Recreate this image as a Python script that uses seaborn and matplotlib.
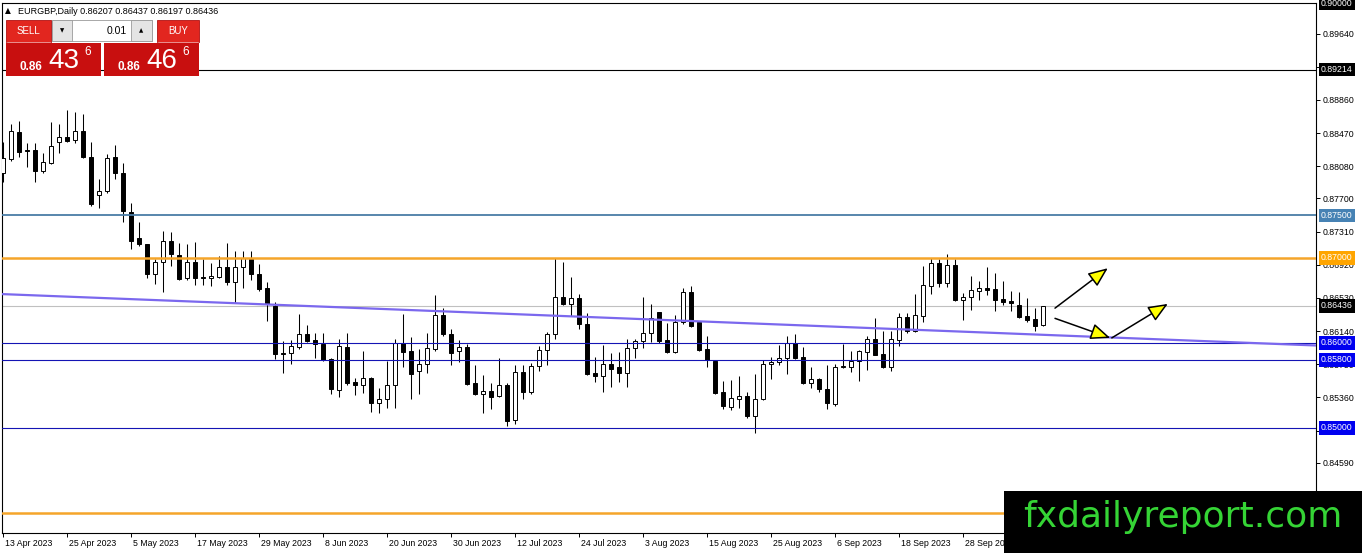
import matplotlib
matplotlib.use('Agg')
import matplotlib.pyplot as plt
from matplotlib.patches import Rectangle, FancyArrowPatch
from matplotlib.transforms import ScaledTranslation
import seaborn as sns
import pandas as pd
import numpy as np

# header of the chart window
symbol_line = 'EURGBP,Daily 0.86207 0.86437 0.86197 0.86436'
first_day = '2023-04-13'

# daily candles (13 Apr 2023 .. 12 Oct 2023)
opens = [0.8800, 0.8816, 0.8848, 0.8827, 0.8827, 0.8802, 0.8812, 0.8836, 0.8842, 0.8839,
         0.8849, 0.8819, 0.8774, 0.8779, 0.8819, 0.8800, 0.8754, 0.8724, 0.8716, 0.8681,
         0.8695, 0.8720, 0.8704, 0.8676, 0.8695, 0.8678, 0.8676, 0.8678, 0.8689, 0.8672,
         0.8689, 0.8699, 0.8681, 0.8665, 0.8644, 0.8588, 0.8588, 0.8595, 0.8611, 0.8604,
         0.8599, 0.8581, 0.8545, 0.8595, 0.8554, 0.8551, 0.8559, 0.8529, 0.8534, 0.8551,
         0.8600, 0.8591, 0.8567, 0.8575, 0.8593, 0.8633, 0.8611, 0.8591, 0.8595, 0.8553,
         0.8540, 0.8544, 0.8538, 0.8551, 0.8509, 0.8566, 0.8542, 0.8573, 0.8592, 0.8611,
         0.8654, 0.8646, 0.8653, 0.8622, 0.8565, 0.8561, 0.8575, 0.8572, 0.8565, 0.8594,
         0.8602, 0.8612, 0.8636, 0.8604, 0.8589, 0.8625, 0.8660, 0.8625, 0.8593, 0.8579,
         0.8542, 0.8525, 0.8534, 0.8538, 0.8514, 0.8534, 0.8575, 0.8578, 0.8582, 0.8600,
         0.8584, 0.8553, 0.8558, 0.8546, 0.8528, 0.8572, 0.8572, 0.8579, 0.8589, 0.8605,
         0.8587, 0.8572, 0.8604, 0.8631, 0.8614, 0.8632, 0.8667, 0.8694, 0.8671, 0.8692,
         0.8651, 0.8654, 0.8661, 0.8665, 0.8664, 0.8652, 0.8649, 0.8645, 0.8632, 0.8628,
         0.86207]
highs = [0.8836, 0.8858, 0.8861, 0.8835, 0.8835, 0.8824, 0.8860, 0.8858, 0.8874, 0.8872,
         0.8869, 0.8836, 0.8793, 0.8822, 0.8833, 0.8812, 0.8765, 0.8742, 0.8717, 0.8699,
         0.8732, 0.8731, 0.8718, 0.8716, 0.8719, 0.8699, 0.8694, 0.8702, 0.8718, 0.8708,
         0.8708, 0.8708, 0.8693, 0.8672, 0.8648, 0.8602, 0.8604, 0.8634, 0.8621, 0.8612,
         0.8612, 0.8582, 0.8605, 0.8612, 0.8559, 0.8591, 0.8560, 0.8547, 0.8579, 0.8605,
         0.8634, 0.8607, 0.8593, 0.8612, 0.8656, 0.8641, 0.8616, 0.8604, 0.8599, 0.8574,
         0.8562, 0.8553, 0.8582, 0.8553, 0.8574, 0.8574, 0.8576, 0.8596, 0.8613, 0.8700,
         0.8695, 0.8678, 0.8658, 0.8635, 0.8584, 0.8598, 0.8588, 0.8589, 0.8605, 0.8605,
         0.8654, 0.8646, 0.8637, 0.8624, 0.8633, 0.8665, 0.8667, 0.8626, 0.8608, 0.8580,
         0.8555, 0.8556, 0.8561, 0.8542, 0.8564, 0.8580, 0.8584, 0.8598, 0.8608, 0.8611,
         0.8595, 0.8572, 0.8559, 0.8574, 0.8575, 0.8599, 0.8591, 0.8592, 0.8608, 0.8629,
         0.8614, 0.8614, 0.8635, 0.8635, 0.8658, 0.8691, 0.8700, 0.8699, 0.8705, 0.8699,
         0.8659, 0.8679, 0.8673, 0.8689, 0.8682, 0.8673, 0.8661, 0.8660, 0.8653, 0.8641,
         0.86437]
lows = [0.8789, 0.8814, 0.8819, 0.8807, 0.8789, 0.8800, 0.8811, 0.8824, 0.8836, 0.8835,
        0.8818, 0.8761, 0.8759, 0.8776, 0.8793, 0.8742, 0.8711, 0.8714, 0.8676, 0.8669,
        0.8660, 0.8691, 0.8674, 0.8674, 0.8668, 0.8668, 0.8667, 0.8676, 0.8668, 0.8647,
        0.8665, 0.8674, 0.8661, 0.8626, 0.8581, 0.8565, 0.8575, 0.8593, 0.8601, 0.8582,
        0.8579, 0.8540, 0.8536, 0.8551, 0.8539, 0.8541, 0.8519, 0.8518, 0.8524, 0.8524,
        0.8572, 0.8534, 0.8540, 0.8565, 0.8591, 0.8608, 0.8574, 0.8578, 0.8551, 0.8539,
        0.8518, 0.8522, 0.8536, 0.8502, 0.8505, 0.8534, 0.8540, 0.8567, 0.8574, 0.8605,
        0.8645, 0.8632, 0.8616, 0.8562, 0.8554, 0.8542, 0.8548, 0.8554, 0.8548, 0.8582,
        0.8594, 0.8601, 0.8600, 0.8588, 0.8588, 0.8622, 0.8619, 0.8591, 0.8572, 0.8540,
        0.8522, 0.8521, 0.8524, 0.8512, 0.8494, 0.8533, 0.8558, 0.8574, 0.8564, 0.8581,
        0.8552, 0.8547, 0.8542, 0.8522, 0.8526, 0.8571, 0.8566, 0.8555, 0.8568, 0.8586,
        0.8571, 0.8567, 0.8596, 0.8612, 0.8613, 0.8625, 0.8658, 0.8666, 0.8666, 0.8649,
        0.8627, 0.8639, 0.8651, 0.8656, 0.8638, 0.8645, 0.8638, 0.8629, 0.8625, 0.8614,
        0.86197]
closes = [0.8818, 0.8849, 0.8825, 0.8826, 0.8802, 0.8813, 0.8832, 0.8842, 0.8838, 0.8849,
          0.8819, 0.8764, 0.8779, 0.8818, 0.8800, 0.8755, 0.8720, 0.8716, 0.8681, 0.8695,
          0.8720, 0.8705, 0.8675, 0.8695, 0.8676, 0.8676, 0.8679, 0.8689, 0.8672, 0.8689,
          0.8700, 0.8681, 0.8664, 0.8646, 0.8587, 0.8587, 0.8596, 0.8611, 0.8602, 0.8599,
          0.8580, 0.8546, 0.8596, 0.8553, 0.8551, 0.8559, 0.8529, 0.8534, 0.8551, 0.8600,
          0.8589, 0.8564, 0.8575, 0.8594, 0.8633, 0.8611, 0.8588, 0.8595, 0.8552, 0.8540,
          0.8544, 0.8536, 0.8551, 0.8508, 0.8566, 0.8542, 0.8573, 0.8592, 0.8611, 0.8654,
          0.8646, 0.8653, 0.8622, 0.8564, 0.8561, 0.8575, 0.8569, 0.8565, 0.8594, 0.8602,
          0.8612, 0.8629, 0.8602, 0.8589, 0.8625, 0.8660, 0.8620, 0.8592, 0.8580, 0.8541,
          0.8526, 0.8535, 0.8538, 0.8514, 0.8534, 0.8575, 0.8578, 0.8582, 0.8600, 0.8582,
          0.8553, 0.8558, 0.8546, 0.8529, 0.8572, 0.8573, 0.8579, 0.8591, 0.8605, 0.8586,
          0.8572, 0.8605, 0.8631, 0.8614, 0.8633, 0.8668, 0.8694, 0.8671, 0.8692, 0.8651,
          0.8654, 0.8662, 0.8665, 0.8662, 0.8651, 0.8648, 0.8647, 0.8631, 0.8627, 0.8620,
          0.86436]

# horizontal levels drawn on the chart
level_prices = [0.89214, 0.8750, 0.8700, 0.8600, 0.8580, 0.8500, 0.8400]
level_colors = ['black', '#4A7DA6', '#F5A52A', '#1414B4', '#1414B4', '#1414B4', '#F5A52A']
level_widths = [0.8, 1.3, 1.8, 0.8, 0.8, 0.8, 1.8]
bid_price = 0.86436

# tagged prices on the right scale
tag_prices = [0.90000, 0.89214, 0.87500, 0.87000, 0.86436, 0.86000, 0.85800, 0.85000]
tag_colors = ['black', 'black', '#4682B4', '#FFA500', 'black', '#0000F0', '#0000F0', '#0000F0']

# regular price scale labels
scale_prices = [0.89640, 0.89250, 0.88860, 0.88470, 0.88080, 0.87700, 0.87310,
                0.86920, 0.86530, 0.86140, 0.85750, 0.85360, 0.84970, 0.84590]

# trend line anchors (bar index, price)
trend_bars = [0, 160]
trend_prices = [0.86575, 0.85986]

# projection arrows (bar index, price)
arrow_from_bars = [131.5, 131.5, 138.6]
arrow_from_prices = [0.8641, 0.8629, 0.8606]
arrow_to_bars = [138.1, 138.4, 145.6]
arrow_to_prices = [0.8688, 0.8606, 0.8646]

# one click trading panel
sell_big, buy_big = '43', '46'
price_head, price_tail = '0.86', '6'
lot_size = '0.01'
watermark = 'fxdailyreport.com'

sns.set_theme(style='white')
plt.rcParams['font.family'] = ['Liberation Sans', 'DejaVu Sans']

W, H = 1362, 553
fig = plt.figure(figsize=(W / 100, H / 100), dpi=100)
fig.patch.set_facecolor('white')
ax = fig.add_axes([2 / W, 20 / H, 1314 / W, 530 / H])
ax.set_facecolor('white')

df = pd.DataFrame({'open': opens, 'high': highs, 'low': lows, 'close': closes})
df['date'] = pd.bdate_range(first_day, periods=len(df))
df['bar'] = np.arange(len(df))
up = df['close'] >= df['open']

# bid line behind the candles
ax.axhline(bid_price, color='#C0C0C0', lw=0.8, zorder=1)

# wicks then bodies
ax.vlines(df['bar'], df['low'], df['high'], color='black', lw=0.75, zorder=2)
body = (df['close'] - df['open']).abs().clip(lower=0.00004)
ax.bar(df['bar'], body, bottom=df[['open', 'close']].min(axis=1), width=0.62,
       color=np.where(up, 'white', 'black'), edgecolor='black', linewidth=0.7, zorder=3)

# levels and trend line
for p, c, w in zip(level_prices, level_colors, level_widths):
    ax.axhline(p, color=c, lw=w, zorder=4)
ax.axline((trend_bars[0], trend_prices[0]), (trend_bars[1], trend_prices[1]),
          color='#7B68EE', lw=1.6, zorder=4)

# arrows with yellow heads
for x0, y0, x1, y1 in zip(arrow_from_bars, arrow_from_prices, arrow_to_bars, arrow_to_prices):
    ax.add_patch(FancyArrowPatch((x0, y0), (x1, y1),
                                 arrowstyle='-|>,head_length=0.6,head_width=0.25',
                                 mutation_scale=20, fc='yellow', ec='black', lw=1.1,
                                 shrinkA=0, shrinkB=0, zorder=5))

ax.set_xlim(-0.125, 164.125)
ax.set_ylim(0.837647, 0.9)

# price scale on the right
ax.yaxis.tick_right()
ax.set_yticks(scale_prices)
ax.set_yticklabels([f'{p:.5f}' for p in scale_prices])
ax.tick_params(axis='y', direction='out', length=3, width=0.7, pad=1.5,
               labelsize=6.3, colors='black', right=True, left=False)

# dates every 8 bars
tick_rows = df.iloc[::8]
ax.set_xticks(tick_rows['bar'])
ax.set_xticklabels([f"{d.day} {d.strftime('%b %Y')}" for d in tick_rows['date']])
ax.tick_params(axis='x', direction='out', length=3, width=0.7, pad=1.2,
               labelsize=6.3, colors='black', bottom=True)
shift = ScaledTranslation(2 / 100, 0, fig.dpi_scale_trans)
for lab in ax.get_xticklabels():
    lab.set_ha('left')
    lab.set_transform(lab.get_transform() + shift)

for s in ax.spines.values():
    s.set_color('black')
    s.set_linewidth(0.8)
ax.grid(False)

# tagged prices
for p, c in zip(tag_prices, tag_colors):
    ax.annotate(f'{p:.5f}', xy=(1, p), xycoords=ax.get_yaxis_transform(),
                xytext=(5, 0), textcoords='offset pixels', va='center', ha='left',
                fontsize=6.3, color='white', annotation_clip=False, zorder=6,
                bbox=dict(boxstyle='square,pad=0.25', fc=c, ec='none'))

# overlay in pixel units for the panel, header and watermark
ov = fig.add_axes([0, 0, 1, 1], zorder=10)
ov.set_xlim(0, W)
ov.set_ylim(H, 0)
ov.axis('off')
ov.patch.set_alpha(0)

ov.text(5, 11, '\u25b2', fontsize=5.5, family='DejaVu Sans', va='center', color='black')
ov.text(18, 11, symbol_line, fontsize=6.5, va='center', color='black')

btn_red = '#E2261F'
box_red = '#C80F0F'
ov.add_patch(Rectangle((6, 20), 45, 22, fc=btn_red, ec='#B01212', lw=0.6))
ov.add_patch(Rectangle((157, 20), 42, 22, fc=btn_red, ec='#B01212', lw=0.6))
ov.add_patch(Rectangle((52, 20), 100, 21, fc='white', ec='#9A9A9A', lw=0.6))
ov.add_patch(Rectangle((52, 20), 20, 21, fc='#E4E4E4', ec='#9A9A9A', lw=0.6))
ov.add_patch(Rectangle((131, 20), 21, 21, fc='#E4E4E4', ec='#9A9A9A', lw=0.6))
ov.text(28.5, 31, 'SELL', fontsize=7, color='white', ha='center', va='center')
ov.text(178, 31, 'BUY', fontsize=7, color='white', ha='center', va='center')
ov.text(62, 31, '\u25bc', fontsize=4, family='DejaVu Sans', ha='center', va='center', color='black')
ov.text(141.5, 31, '\u25b2', fontsize=4, family='DejaVu Sans', ha='center', va='center', color='black')
ov.text(127, 31, lot_size, fontsize=7.5, color='black', ha='right', va='center')
ov.plot([7, 50], [42, 42], color='#F2A0A0', lw=0.6)
ov.plot([158, 198], [42, 42], color='#F2A0A0', lw=0.6)

for x0, big in [(6, sell_big), (104, buy_big)]:
    ov.add_patch(Rectangle((x0, 43), 95, 33, fc=box_red, ec='none'))
    ov.text(x0 + 14, 70.5, price_head, fontsize=8.5, fontweight='bold', color='white', va='baseline')
    ov.text(x0 + 42, 68.5, big, fontsize=20, color='white', va='baseline')
    ov.text(x0 + 78, 55, price_tail, fontsize=8.5, color='white', va='baseline')

ov.add_patch(Rectangle((1004, 491), 358, 62, fc='black', ec='none'))
ov.text(1182.5, 527, watermark, fontsize=26, family='DejaVu Sans', color='#35D435',
        ha='center', va='baseline')

fig.savefig('out.png', dpi=100, facecolor='white')
